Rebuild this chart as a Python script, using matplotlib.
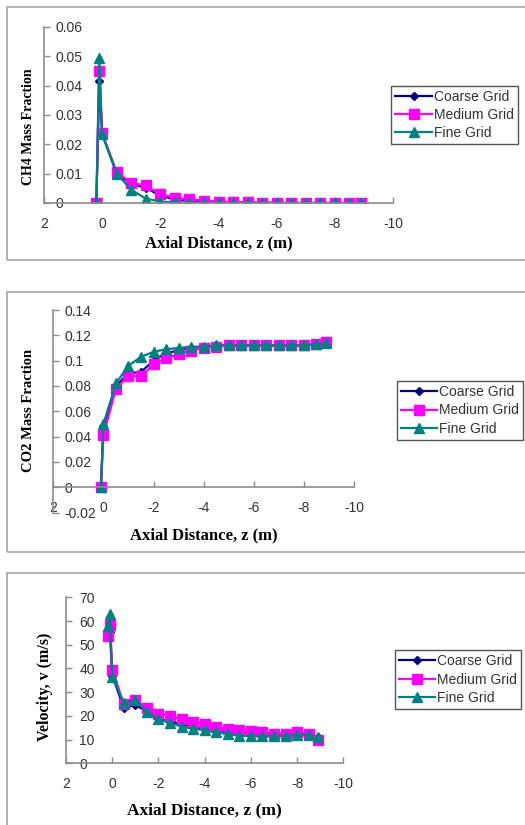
import matplotlib
matplotlib.use("Agg")
import matplotlib.pyplot as plt
from matplotlib.patches import Rectangle
from matplotlib.ticker import FuncFormatter, MultipleLocator

# ---------------- data ----------------
z = [0.2, 0.1, 0.0, -0.5, -1.0, -1.5, -2.0, -2.5, -3.0, -3.5, -4.0, -4.5,
     -5.0, -5.5, -6.0, -6.5, -7.0, -7.5, -8.0, -8.5, -8.9]

ch4_coarse = [0.0, 0.0415, 0.0235, 0.0100, 0.0065, 0.0052, 0.0025, 0.0012, 0.0008,
              0.0005, 0.0003, 0.0002, 0.0001, 0.0001, 0.0, 0.0, 0.0, 0.0, 0.0, 0.0, 0.0]
ch4_medium = [0.0, 0.0450, 0.0237, 0.0105, 0.0068, 0.0060, 0.0030, 0.0018, 0.0012,
              0.0008, 0.0005, 0.0003, 0.0002, 0.0001, 0.0001, 0.0, 0.0, 0.0, 0.0, 0.0, 0.0]
ch4_fine = [0.0, 0.0495, 0.0235, 0.0100, 0.0045, 0.0015, 0.0005, 0.0002, 0.0001,
            0.0001, 0.0, 0.0, 0.0, 0.0, 0.0, 0.0, 0.0, 0.0, 0.0, 0.0, 0.0]

z_co2 = [0.1, 0.0, -0.5, -1.0, -1.5, -2.0, -2.5, -3.0, -3.5, -4.0, -4.5,
         -5.0, -5.5, -6.0, -6.5, -7.0, -7.5, -8.0, -8.5, -8.9]
co2_coarse = [0.0, 0.048, 0.080, 0.090, 0.091, 0.100, 0.106, 0.108, 0.110, 0.111, 0.112,
              0.112, 0.112, 0.112, 0.112, 0.112, 0.112, 0.112, 0.113, 0.114]
co2_medium = [0.0, 0.041, 0.078, 0.088, 0.0875, 0.097, 0.102, 0.105, 0.108, 0.110, 0.111,
              0.112, 0.112, 0.112, 0.112, 0.112, 0.112, 0.112, 0.113, 0.115]
co2_fine = [0.0, 0.050, 0.082, 0.096, 0.103, 0.107, 0.109, 0.110, 0.111, 0.111, 0.112,
            0.112, 0.112, 0.112, 0.112, 0.112, 0.112, 0.112, 0.113, 0.114]

z_vc = [0.1, 0.0, -0.5, -1.0, -1.5, -2.0, -2.5, -3.0, -3.5, -4.0, -4.5,
        -5.0, -5.5, -6.0, -6.5, -7.0, -7.5, -8.0, -8.5, -8.9]
vel_coarse = [55.5, 37.0, 23.5, 24.5, 22.0, 19.0, 17.5, 16.5, 15.5, 14.5, 14.0,
              13.5, 13.0, 12.5, 12.5, 12.0, 12.0, 12.5, 12.5, 11.0]
vel_medium = [53.5, 58.5, 39.5, 25.0, 26.5, 23.5, 21.0, 20.0, 18.5, 17.5, 16.5, 15.5,
              14.5, 14.0, 13.5, 13.0, 12.5, 12.5, 13.0, 12.5, 10.0]
vel_fine = [58.0, 63.0, 36.5, 25.5, 26.5, 21.5, 18.5, 17.0, 15.5, 14.5, 14.0, 13.0,
            12.5, 11.5, 11.5, 11.5, 11.5, 11.5, 12.0, 12.0, 11.0]

series_names = ["Coarse Grid", "Medium Grid", "Fine Grid"]
x_label = "Axial Distance, z (m)"
y_labels = ["CH4 Mass Fraction", "CO2 Mass Fraction", "Velocity, v (m/s)"]

# ---------------- style ----------------
W, H = 525, 825
fig = plt.figure(figsize=(W / 100, H / 100), dpi=100)
plt.rcParams['font.family'] = ['Liberation Sans', 'DejaVu Sans']

C_COARSE = "#000080"
C_MED = "#FF00FF"
C_FINE = "#008080"
SPINE = "#8c8c8c"
TXT = "#333333"


def px_rect(l, t, r, b):
    return [l / W, 1 - b / H, (r - l) / W, (b - t) / H]


# panel frames
for (l, t, r, b) in [(7, 7, 530, 260), (7, 292, 530, 552), (7, 573, 530, 835)]:
    fig.patches.append(Rectangle((l / W, 1 - b / H), (r - l) / W, (b - t) / H,
                                 transform=fig.transFigure, fill=False,
                                 edgecolor="#a6a6a6", linewidth=1.2))

fmt = FuncFormatter(lambda v, p: "{:g}".format(round(v, 6)))


def setup(ax, ylim, ystep, ypad):
    ax.set_xlim(2, -10)
    ax.set_ylim(*ylim)
    ax.xaxis.set_major_locator(MultipleLocator(2))
    ax.yaxis.set_major_locator(MultipleLocator(ystep))
    ax.xaxis.set_major_formatter(fmt)
    ax.yaxis.set_major_formatter(fmt)
    for s in ["top", "right"]:
        ax.spines[s].set_visible(False)
    for s in ["left", "bottom"]:
        ax.spines[s].set_color(SPINE)
        ax.spines[s].set_linewidth(1.2)
    ax.spines["bottom"].set_position(("data", 0))
    ax.tick_params(axis="x", direction="in", length=4, width=1, color=SPINE,
                   labelsize=10, labelcolor=TXT, pad=10)
    ax.tick_params(axis="y", direction="in", length=4, width=1, color=SPINE,
                   labelsize=10, labelcolor=TXT, pad=ypad)
    for lab in ax.get_yticklabels():
        lab.set_horizontalalignment("left")
    ax.patch.set_alpha(0)


def draw(ax, xs, ys, lw=1.6):
    (xc, xm, xf), (yc, ym, yf) = xs, ys
    h1, = ax.plot(xc, yc, color=C_COARSE, marker="D", ms=4, lw=lw, label=series_names[0])
    h2, = ax.plot(xm, ym, color=C_MED, marker="s", ms=7, lw=lw, label=series_names[1])
    h3, = ax.plot(xf, yf, color=C_FINE, marker="^", ms=7, lw=lw, label=series_names[2])
    return [h1, h2, h3]


def legend(ax, handles, cx, cy):
    leg = ax.legend(handles=handles, loc="center", bbox_to_anchor=(cx / W, 1 - cy / H),
                    bbox_transform=fig.transFigure, fontsize=10, frameon=True,
                    fancybox=False, edgecolor="#555555", framealpha=1,
                    handlelength=2.6, handletextpad=0.15, labelspacing=0.3,
                    borderpad=0.3, borderaxespad=0)
    leg.get_frame().set_linewidth(1.0)
    for t in leg.get_texts():
        t.set_color(TXT)


def labels(xl_c, xl_y, yl_x, yl_y, ylab, xfs, yfs):
    fig.text(xl_c / W, 1 - xl_y / H, x_label, ha="center", va="center",
             family=["Liberation Serif", "DejaVu Serif"], fontweight="bold", fontsize=xfs)
    fig.text(yl_x / W, 1 - yl_y / H, ylab, ha="center", va="center", rotation=90,
             family=["Liberation Serif", "DejaVu Serif"], fontweight="bold", fontsize=yfs)


# Panel 1: CH4
ax1 = fig.add_axes(px_rect(44, 27, 393, 203))
setup(ax1, (0, 0.06), 0.01, -8)
h = draw(ax1, (z, z, z), (ch4_coarse, ch4_medium, ch4_fine))
legend(ax1, h, 454.5, 115)
labels(218.5, 243, 28, 127, y_labels[0], 12, 10)

# Panel 2: CO2
ax2 = fig.add_axes(px_rect(53.3, 310, 354, 512.6))
setup(ax2, (-0.02, 0.14), 0.02, -8)
h = draw(ax2, (z_co2, z_co2, z_co2), (co2_coarse, co2_medium, co2_fine))
legend(ax2, h, 460, 410.5)
labels(203.7, 535, 29, 410, y_labels[1], 12, 10.5)

# Panel 3: Velocity
ax3 = fig.add_axes(px_rect(66, 597.3, 343.3, 763.3))
setup(ax3, (0, 70), 10, -9.5)
h = draw(ax3, (z_vc, z, z), (vel_coarse, vel_medium, vel_fine))
legend(ax3, h, 458, 679.5)
labels(204.7, 810, 45, 687, y_labels[2], 12.5, 11.5)

fig.savefig("out.png", dpi=100)
